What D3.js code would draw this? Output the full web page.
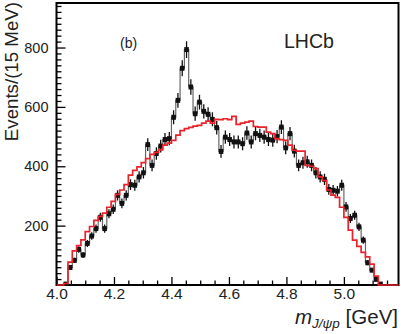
<!DOCTYPE html>
<html><head><meta charset="utf-8">
<script src="https://cdn.jsdelivr.net/npm/d3@7"></script>
<style>body{margin:0;background:#fff}svg{display:block}</style>
</head><body>
<svg id="c" width="401" height="334"></svg>
<script>
// ---- data (15 MeV bins, first bin lower edge at binStart) ----
const binStart = 4.010;
const binWidth = 0.015;
const dataCounts = [0,3,59,83,120,101,140,165,190,228,
 190,240,255,302,275,302,338,336,364,378,
 473,403,443,468,490,493,565,622,730,793,
 667,577,616,585,575,558,530,450,498,490,
 482,482,476,512,482,510,504,498,490,488,
 500,532,462,510,451,403,412,415,403,378,
 364,356,322,319,316,336,263,224,235,196,
 151,75,50,19,3,0,0,0,0];
const modelCounts = [0,5,77,115,133,152,180,197,218,231,
 242,262,282,305,320,338,370,386,398,412,
 426,440,447,455,471,478,487,505,520,527,
 531,535,538,545,552,545,558,557,560,557,
 568,541,545,549,552,534,532,532,515,510,
 493,490,487,471,454,451,451,403,400,392,
 364,352,320,303,295,262,228,185,151,130,
 110,95,70,30,0,0,0,0,0];
const xTickValues = [4.0,4.2,4.4,4.6,4.8,5.0];
const xTickLabels = ["4.0","4.2","4.4","4.6","4.8","5.0"];
const xMinorTicks = [4.05,4.1,4.15,4.25,4.3,4.35,4.45,4.5,4.55,4.65,4.7,4.75,4.85,4.9,4.95,5.05,5.1,5.15];
const yTickValues = [200,400,600,800];
const yTickLabels = ["200","400","600","800"];
const yMinorTicks = d3.range(20, 950, 20).filter(v => v % 200 !== 0);

const FONT = "'Liberation Sans', Arial, Helvetica, sans-serif";
const svg = d3.select("#c");
const x = d3.scaleLinear().domain([4.0, 5.19]).range([56.5, 398.5]);
const y = d3.scaleLinear().domain([0, 950]).range([285, 3]);

const bins = dataCounts.map((d, i) => ({
  lo: binStart + i * binWidth, hi: binStart + (i + 1) * binWidth,
  data: d, model: modelCounts[i]
}));

svg.append("defs").append("clipPath").attr("id", "clip")
  .append("rect").attr("x", 56.5).attr("y", 0).attr("width", 342).attr("height", 286);

const plot = svg.append("g").attr("clip-path", "url(#clip)");

// data connecting step line (gray)
const dataPts = [];
bins.forEach(b => { if (b.data > 0) { dataPts.push([x(b.lo), y(b.data)]); dataPts.push([x(b.hi), y(b.data)]); } });
plot.append("path").attr("d", d3.line()(dataPts))
  .attr("fill", "none").attr("stroke", "#666").attr("stroke-width", 1.2);

// error bars + markers
const pts = plot.append("g");
bins.filter(b => b.data > 0).forEach(b => {
  const cx = x((b.lo + b.hi) / 2);
  const e = Math.sqrt(b.data);
  pts.append("line").attr("x1", cx).attr("x2", cx)
    .attr("y1", y(b.data - e)).attr("y2", y(b.data + e))
    .attr("stroke", "#111").attr("stroke-width", 1.3);
  pts.append("rect").attr("x", cx - 2.3).attr("y", y(b.data) - 2.5)
    .attr("width", 4.6).attr("height", 5).attr("fill", "#111");
});

// axes
const xMaj = d3.axisBottom(x).tickValues(xTickValues)
  .tickFormat((d, i) => xTickLabels[i]).tickSize(-8).tickPadding(3);
const xMin = d3.axisBottom(x).tickValues(xMinorTicks).tickFormat("").tickSize(-4.5);
const yMaj = d3.axisLeft(y).tickValues(yTickValues)
  .tickFormat((d, i) => yTickLabels[i]).tickSize(-9).tickPadding(8);
const yMin = d3.axisLeft(y).tickValues(yMinorTicks).tickFormat("").tickSize(-5);

function style(g, fs) {
  g.select(".domain").remove();
  g.selectAll("line").attr("stroke", "#000").attr("stroke-width", 1.3);
  g.selectAll("text").attr("font-family", FONT).attr("font-size", fs).attr("fill", "#222");
}
svg.append("g").attr("transform", "translate(0,285)").call(xMaj).call(g => style(g, 15.5));
svg.append("g").attr("transform", "translate(0,285)").call(xMin).call(g => style(g, 15));
svg.append("g").attr("transform", "translate(56.5,0)").call(yMaj).call(g => style(g, 14.5));
svg.append("g").attr("transform", "translate(56.5,0)").call(yMin).call(g => style(g, 14));

// frame
svg.append("rect").attr("x", 56.5).attr("y", 3).attr("width", 342).attr("height", 282)
  .attr("fill", "none").attr("stroke", "#000").attr("stroke-width", 2);

// model histogram (red)
const modelPts = [[x(4.0), y(0)]];
bins.forEach(b => { modelPts.push([x(b.lo), y(b.model)]); modelPts.push([x(b.hi), y(b.model)]); });
plot.append("path").attr("d", d3.line()(modelPts)).raise()
  .attr("fill", "none").attr("stroke", "#e8232b").attr("stroke-width", 1.7);
svg.node().appendChild(plot.node());

// texts
svg.append("text").attr("transform", "translate(18,2) rotate(-90)")
  .attr("text-anchor", "end").attr("font-family", FONT).attr("font-size", 18.7).attr("fill", "#222")
  .text("Events/(15 MeV)");

const xt = svg.append("text").attr("x", 398).attr("y", 324).attr("text-anchor", "end")
  .attr("font-family", FONT).attr("font-size", 20.5).attr("fill", "#222");
xt.append("tspan").attr("font-style", "italic").text("m");
xt.append("tspan").attr("font-style", "italic").attr("font-size", 13.5).attr("dy", 4).text("J/\u03C8p");
xt.append("tspan").attr("dy", -4).text(" [GeV]");

svg.append("text").attr("x", 284).attr("y", 48).attr("font-family", FONT)
  .attr("font-size", 19.5).attr("fill", "#222").text("LHCb");
svg.append("text").attr("x", 120).attr("y", 48).attr("font-family", FONT)
  .attr("font-size", 14).attr("fill", "#222").text("(b)");
</script>
</body></html>
